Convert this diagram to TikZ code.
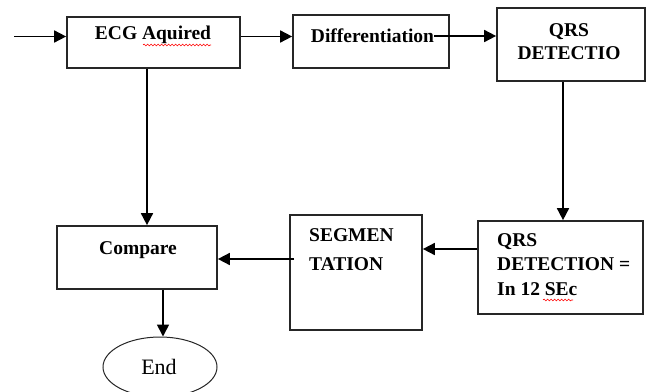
\documentclass[tikz,border=0pt]{standalone}
\usepackage{fontspec}
\setmainfont{Liberation Serif}
\usetikzlibrary{arrows.meta,shapes.geometric,decorations.pathmorphing}
\tikzset{
  box/.style={draw=black!85, line width=1.7pt, rectangle, inner sep=0pt},
  lbl/.style={font=\fontsize{19.5}{24.5}\selectfont\bfseries, inner sep=0pt},
  arr/.style={line width=1.7pt, -{Triangle[length=12pt,width=12pt]}},
  squig/.style={red, line width=0.6pt, decorate, decoration={snake, amplitude=0.9pt, segment length=3.5pt}}
}
\begin{document}
\begin{tikzpicture}[x=1pt,y=-1pt]
\useasboundingbox (0,0) rectangle (647,391);
% boxes
\node[box, minimum width=173, minimum height=51] (ecg) at (153.5,42.5) {};
\node[lbl] (ecgt) at (153,35) {ECG Aquired};
\node[box, minimum width=156, minimum height=53] (diff) at (371,41.5) {};
\node[lbl] (difft) at (372.5,36) {Differentiation};
\node[box, minimum width=148, minimum height=73] (qrsa) at (571,44.5) {};
\node[lbl, align=center, font=\fontsize{19.5}{23}\selectfont\bfseries] (qrsat) at (569,41.5) {QRS\\DETECTIO};
\node[box, minimum width=160, minimum height=63] (cmp) at (137,257.5) {};
\node[lbl] (cmpt) at (138,250) {Compare};
\node[box, minimum width=132, minimum height=115] (seg) at (356,272.5) {};
\node[lbl, align=left, anchor=north west, font=\fontsize{19.5}{29}\selectfont\bfseries] (segt) at (309,228) {SEGMEN\\TATION};
\node[box, minimum width=165, minimum height=93] (qrsb) at (560.5,267.5) {};
\node[lbl, align=left, anchor=north west] (qrsbt) at (497,233) {QRS\\DETECTION =\\In 12 SEc};
\node[draw=black!85, line width=1pt, ellipse, minimum width=114, minimum height=60, inner sep=0pt] (endn) at (160,367) {};
\node[font=\fontsize{22}{24}\selectfont, inner sep=0pt] (endt) at (159,367) {End};
% spell-check marks
\coordinate (sq1a) at (143,45);
\coordinate (sq1b) at (211,45);
\draw[squig] (sq1a) -- (sq1b);
\coordinate (sq2a) at (543,300);
\coordinate (sq2b) at (573,300);
\draw[squig] (sq2a) -- (sq2b);
% connectors
\coordinate (in) at (14,36.5);
\draw[arr] (in) -- (in -| ecg.west);
\draw[arr] ([yshift=6pt]ecg.east) -- ([yshift=6pt]ecg.east -| diff.west);
\draw[arr] (difft.east) -- (difft.east -| qrsa.west);
\draw[arr] ([xshift=-6.5pt]ecg.south) -- ([xshift=-6.5pt]ecg.south |- cmp.north);
\draw[arr] ([xshift=-8pt]qrsa.south) -- ([xshift=-8pt]qrsa.south |- qrsb.north);
\draw[arr] ([yshift=18.5pt]qrsb.west) -- ([yshift=18.5pt]qrsb.west -| seg.east);
\draw[arr] ([xshift=5pt,yshift=13.5pt]seg.west) -- ([yshift=13.5pt]seg.west -| cmp.east);
\draw[arr] ([xshift=26pt]cmp.south) -- ([xshift=26pt]cmp.south |- endn.north);
\end{tikzpicture}
\end{document}
